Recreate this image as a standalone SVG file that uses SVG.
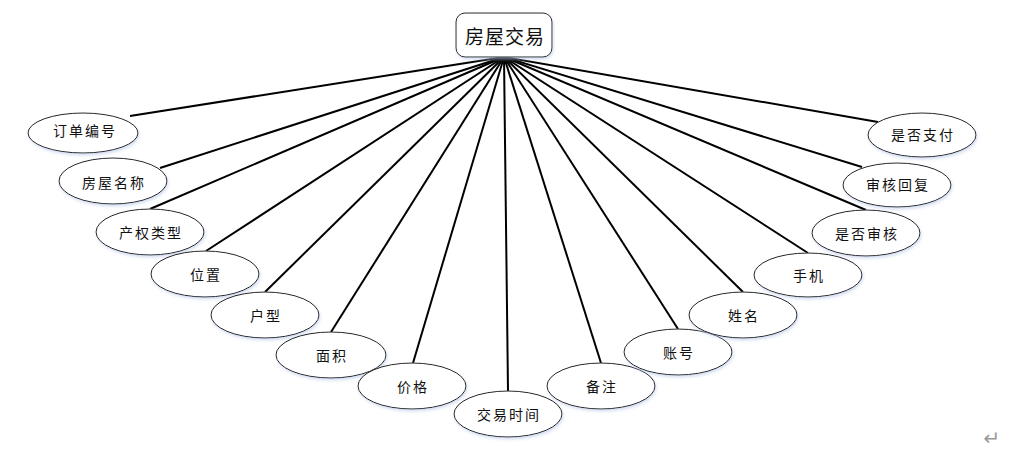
<svg xmlns="http://www.w3.org/2000/svg" width="1016" height="450" viewBox="0 0 1016 450">
<defs>
<filter id="sh" x="-20%" y="-20%" width="140%" height="150%">
<feGaussianBlur in="SourceAlpha" stdDeviation="1.5"/>
<feOffset dx="1" dy="2" result="b"/>
<feFlood flood-color="#b8c8e8" flood-opacity="0.6"/>
<feComposite in2="b" operator="in"/>
<feMerge><feMergeNode/><feMergeNode in="SourceGraphic"/></feMerge>
</filter>
</defs>
<style>
.e{fill:#fff;stroke:#222;stroke-width:1;filter:url(#sh)}
.t{font-family:"Noto Sans CJK SC","Liberation Sans",sans-serif;font-size:14px;fill:#111;text-anchor:middle;dominant-baseline:central;letter-spacing:2px}
.c line{stroke:#000;stroke-width:2}
</style>
<rect width="1016" height="450" fill="#fff"/>
<g class="c" id="connectors">
<line x1="504" y1="57" x2="130" y2="116"/>
<line x1="504" y1="57" x2="160" y2="168"/>
<line x1="504" y1="57" x2="150" y2="209"/>
<line x1="504" y1="57" x2="206" y2="251"/>
<line x1="504" y1="57" x2="265" y2="292"/>
<line x1="504" y1="57" x2="331" y2="332"/>
<line x1="504" y1="57" x2="413" y2="363"/>
<line x1="504" y1="57" x2="508" y2="391"/>
<line x1="504" y1="57" x2="601" y2="363"/>
<line x1="504" y1="57" x2="678" y2="329"/>
<line x1="504" y1="57" x2="743" y2="292"/>
<line x1="504" y1="57" x2="808" y2="253"/>
<line x1="504" y1="57" x2="866" y2="210"/>
<line x1="504" y1="57" x2="862" y2="167"/>
<line x1="504" y1="57" x2="878" y2="122"/>
</g>
<g id="root">
<rect x="456" y="13" width="96" height="44" rx="9" fill="#fff" stroke="#222" stroke-width="1" filter="url(#sh)"/>
<text x="505" y="35" class="t" style="font-size:19px;letter-spacing:1px">房屋交易</text>
</g>
<g id="n1"><ellipse class="e" cx="83" cy="133" rx="55" ry="20"/><text class="t" x="85" y="130">订单编号</text></g>
<g id="n2"><ellipse class="e" cx="113" cy="181" rx="54" ry="23"/><text class="t" x="114" y="182">房屋名称</text></g>
<g id="n3"><ellipse class="e" cx="150" cy="232" rx="54" ry="23"/><text class="t" x="151" y="232">产权类型</text></g>
<g id="n4"><ellipse class="e" cx="205" cy="274" rx="54" ry="23"/><text class="t" x="206" y="274">位置</text></g>
<g id="n5"><ellipse class="e" cx="265" cy="315" rx="54" ry="23"/><text class="t" x="266" y="315">户型</text></g>
<g id="n6"><ellipse class="e" cx="331" cy="355" rx="55" ry="23"/><text class="t" x="332" y="355">面积</text></g>
<g id="n7"><ellipse class="e" cx="412" cy="386" rx="54" ry="23"/><text class="t" x="413" y="386">价格</text></g>
<g id="n8"><ellipse class="e" cx="508" cy="414" rx="54" ry="23"/><text class="t" x="509" y="414">交易时间</text></g>
<g id="n9"><ellipse class="e" cx="601" cy="386" rx="54" ry="23"/><text class="t" x="602" y="386">备注</text></g>
<g id="n10"><ellipse class="e" cx="678" cy="352" rx="54" ry="23"/><text class="t" x="679" y="352">账号</text></g>
<g id="n11"><ellipse class="e" cx="743" cy="315" rx="54" ry="23"/><text class="t" x="744" y="315">姓名</text></g>
<g id="n12"><ellipse class="e" cx="808" cy="275" rx="54" ry="22"/><text class="t" x="809" y="275">手机</text></g>
<g id="n13"><ellipse class="e" cx="866" cy="233" rx="54" ry="23"/><text class="t" x="867" y="233">是否审核</text></g>
<g id="n14"><ellipse class="e" cx="897" cy="185" rx="54" ry="22"/><text class="t" x="898" y="184">审核回复</text></g>
<g id="n15"><ellipse class="e" cx="922" cy="135" rx="54" ry="22"/><text class="t" x="923" y="134">是否支付</text></g>
<text x="992" y="438" style="font-family:'DejaVu Sans',sans-serif;font-size:20px;fill:#999;text-anchor:middle;dominant-baseline:central">↵</text>
</svg>
